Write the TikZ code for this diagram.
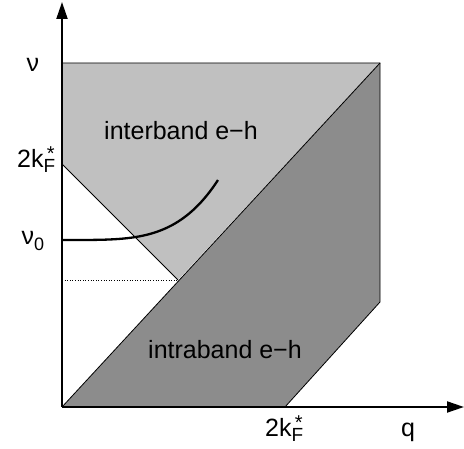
\documentclass[tikz,border=0pt]{standalone}
\usepackage{fontspec}
\setmainfont{Liberation Sans}
\usetikzlibrary{arrows.meta}
\definecolor{lightg}{RGB}{192,192,192}
\definecolor{darkg}{RGB}{140,140,140}
\newcommand{\kfstar}{2k\rlap{\raisebox{-0.2em}{\fontsize{19}{20}\selectfont F}}\raisebox{0.3em}{\fontsize{20}{20}\selectfont\,*}}
\tikzset{
  axis/.style={line width=2pt,-{Triangle[length=17pt,width=11pt]}},
  region/.style={draw=black,line width=0.8pt},
  lbl/.style={font=\fontsize{25}{30}\selectfont,inner sep=0pt},
}
\begin{document}
\begin{tikzpicture}[x=1pt,y=-1pt]
\useasboundingbox (0,0) rectangle (464,449);
\coordinate (O) at (62,407);
\coordinate (TL) at (62,63);
\coordinate (TR) at (380,63);
\coordinate (BR) at (380,302);
\coordinate (QK) at (285,407);
\coordinate (NK) at (62,164);
\coordinate (M) at (178,280);
\coordinate (ND) at (62,280);
\coordinate (YT) at (62,2);
\coordinate (XT) at (464,407);
% regions
\fill[lightg] (TL) -- (TR) -- (M) -- (NK) -- cycle;
\fill[darkg] (O) -- (TR) -- (BR) -- (QK) -- cycle;
\draw[region] (TL) -- (TR) -- (BR) -- (QK);
\draw[region] (O) -- (TR);
\draw[region] (NK) -- (M);
\draw[dotted,line width=0.6pt] (ND) -- (M);
% curve
\draw[line width=2.3pt] plot[domain=62:218,samples=60] (\x,{240-60*((\x-62)/156)^4});
% axes
\draw[axis] (O) -- (YT);
\draw[axis] (O) -- (XT);
% labels
\node[lbl] (nu) at (33,65) {ν};
\node[lbl,anchor=base west] (kf) at (17,168) {\kfstar};
\node[lbl] (nu0) at (33,241) {ν\raisebox{-0.25em}{\fontsize{18}{20}\selectfont 0}};
\node[lbl] (inter) at (181,131) {interband e−h};
\node[lbl] (intra) at (225,350) {intraband e−h};
\node[lbl,anchor=base west] (kfq) at (265,437) {\kfstar};
\node[lbl,anchor=base] (q) at (408,437) {q};
\end{tikzpicture}
\end{document}
